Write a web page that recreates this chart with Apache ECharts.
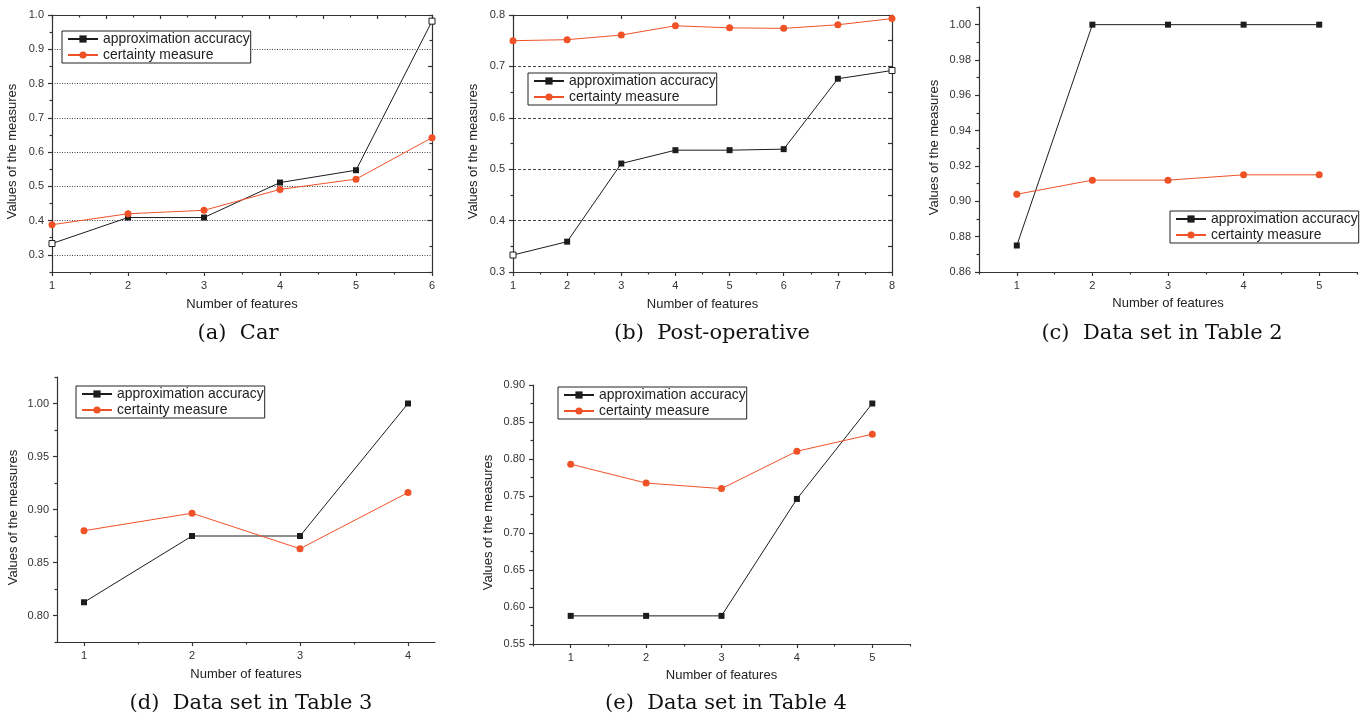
<!DOCTYPE html>
<html>
<head>
<meta charset="utf-8">
<title>Approximation accuracy and certainty measure</title>
<script src="https://cdn.jsdelivr.net/npm/echarts@6/dist/echarts.min.js"></script>
<style>
  html, body { margin: 0; padding: 0; background: #fff; }
  #chart { width: 1367px; height: 717px; }
</style>
</head>
<body>
<div id="chart"></div>
<script>
// ---- values ----
const SERIES_NAMES = ['approximation accuracy', 'certainty measure'];
const X_NAME = 'Number of features';
const Y_NAME = 'Values of the measures';

// (a) Car
const carFeatures = [1, 2, 3, 4, 5, 6];
const carAccuracy = [0.333, 0.409, 0.409, 0.511, 0.547, 0.982];
const carCertainty = [0.388, 0.420, 0.430, 0.491, 0.521, 0.642];
const carXLabels = [1, 2, 3, 4, 5, 6];
const carYLabels = [0.3, 0.4, 0.5, 0.6, 0.7, 0.8, 0.9, 1.0];

// (b) Post-operative
const postFeatures = [1, 2, 3, 4, 5, 6, 7, 8];
const postAccuracy = [0.333, 0.359, 0.511, 0.537, 0.537, 0.539, 0.676, 0.692];
const postCertainty = [0.750, 0.752, 0.761, 0.779, 0.775, 0.774, 0.781, 0.793];
const postXLabels = [1, 2, 3, 4, 5, 6, 7, 8];
const postYLabels = [0.3, 0.4, 0.5, 0.6, 0.7, 0.8];

// (c) Data set in Table 2
const t2Features = [1, 2, 3, 4, 5];
const t2Accuracy = [0.875, 1.0, 1.0, 1.0, 1.0];
const t2Certainty = [0.904, 0.912, 0.912, 0.915, 0.915];
const t2XLabels = [1, 2, 3, 4, 5];
const t2YLabels = [0.86, 0.88, 0.90, 0.92, 0.94, 0.96, 0.98, 1.00];

// (d) Data set in Table 3
const t3Features = [1, 2, 3, 4];
const t3Accuracy = [0.8125, 0.875, 0.875, 1.0];
const t3Certainty = [0.880, 0.8965, 0.863, 0.916];
const t3XLabels = [1, 2, 3, 4];
const t3YLabels = [0.80, 0.85, 0.90, 0.95, 1.00];

// (e) Data set in Table 4
const t4Features = [1, 2, 3, 4, 5];
const t4Accuracy = [0.588, 0.588, 0.588, 0.746, 0.875];
const t4Certainty = [0.793, 0.7675, 0.760, 0.8105, 0.8335];
const t4XLabels = [1, 2, 3, 4, 5];
const t4YLabels = [0.55, 0.60, 0.65, 0.70, 0.75, 0.80, 0.85, 0.90];

// ---- styling ----
const SANS = '"Liberation Sans", Arial, sans-serif';
const SERIF = '"DejaVu Serif", "Liberation Serif", serif';
const TEXT = '#222';
const AXIS = '#333';
const ACC_COLOR = '#1c1c1c';
const CERT_COLOR = '#f05228';

const round = v => Math.round(v * 10000) / 10000;

// midpoints between major ticks, extended to the axis ends
function minorsOf(majors, min, max) {
  const step = majors[1] - majors[0];
  const out = [];
  for (let v = majors[0] - step / 2; v <= max + 1e-9; v += step) {
    if (v >= min - 1e-9) out.push(round(v));
  }
  return out;
}
function stepsOf(from, to, step) {
  const out = [];
  for (let v = from; v <= to + 1e-9; v += step) out.push(round(v));
  return out;
}

const panels = [
  {
    caption: '(a)  Car',
    x: carFeatures, acc: carAccuracy, cert: carCertainty,
    xLabels: carXLabels, yLabels: carYLabels,
    xMin: 1, xMax: 6, yMin: 0.25, yMax: 1.0, yDigits: 1,
    grid: { left: 52, top: 15, width: 380, height: 257 },
    legend: { left: 62, top: 31 },
    captionPos: [238, 323],
    yNameGap: 33, xNameGap: 26,
    gridLine: [1, 1.5],
    top: { min: 0, max: 14, majors: stepsOf(0, 14, 2), minors: stepsOf(1, 13, 2) },
    right: { min: 0, max: 10, majors: stepsOf(0, 10, 2), minors: stepsOf(1, 9, 2) },
    hollowEnds: true
  },
  {
    caption: '(b)  Post-operative',
    x: postFeatures, acc: postAccuracy, cert: postCertainty,
    xLabels: postXLabels, yLabels: postYLabels,
    xMin: 1, xMax: 8, yMin: 0.3, yMax: 0.8, yDigits: 1,
    grid: { left: 513, top: 15, width: 379, height: 257 },
    legend: { left: 528, top: 73 },
    captionPos: [712, 323],
    yNameGap: 33, xNameGap: 26,
    gridLine: [3, 2],
    top: { min: 1, max: 8, majors: postXLabels, minors: [] },
    right: { min: 0.3, max: 0.8, majors: stepsOf(0.3, 0.8, 0.05), minors: [] },
    hollowEnds: true
  },
  {
    caption: '(c)  Data set in Table 2',
    x: t2Features, acc: t2Accuracy, cert: t2Certainty,
    xLabels: t2XLabels, yLabels: t2YLabels,
    xMin: 0.5, xMax: 5.5, yMin: 0.86, yMax: 1.01, yDigits: 2,
    grid: { left: 979, top: 7, width: 378, height: 265 },
    legend: { left: 1170, top: 211 },
    captionPos: [1162, 323],
    yNameGap: 38, xNameGap: 25
  },
  {
    caption: '(d)  Data set in Table 3',
    x: t3Features, acc: t3Accuracy, cert: t3Certainty,
    xLabels: t3XLabels, yLabels: t3YLabels,
    xMin: 0.75, xMax: 4.25, yMin: 0.775, yMax: 1.025, yDigits: 2,
    grid: { left: 57, top: 377, width: 378, height: 265 },
    legend: { left: 76, top: 386 },
    captionPos: [251, 693],
    yNameGap: 37, xNameGap: 26
  },
  {
    caption: '(e)  Data set in Table 4',
    x: t4Features, acc: t4Accuracy, cert: t4Certainty,
    xLabels: t4XLabels, yLabels: t4YLabels,
    xMin: 0.5, xMax: 5.5, yMin: 0.55, yMax: 0.90, yDigits: 2,
    grid: { left: 533, top: 385, width: 377, height: 259 },
    legend: { left: 558, top: 387 },
    captionPos: [726, 693],
    yNameGap: 38, xNameGap: 25
  }
];

const grids = [], xAxes = [], yAxes = [], series = [], legends = [], titles = [];
const lineStyle = { color: AXIS, width: 1.2 };
const labelStyle = { fontFamily: SANS, fontSize: 11, color: '#333' };
const nameStyle = { fontFamily: SANS, fontSize: 13, color: TEXT };

// a tick-only axis (no line, no labels)
function tickAxis(gi, pos, min, max, values, len, inside) {
  return {
    gridIndex: gi, type: 'value', position: pos, min: min, max: max,
    axisLine: { show: false, onZero: false },
    axisTick: { show: true, inside: inside, length: len, customValues: values, lineStyle: lineStyle },
    axisLabel: { show: false },
    splitLine: { show: false }
  };
}

panels.forEach((p, gi) => {
  grids.push(Object.assign({ outerBoundsMode: 'none', containLabel: false }, p.grid));

  const xi = xAxes.length;
  xAxes.push({
    gridIndex: gi, type: 'value', position: 'bottom', min: p.xMin, max: p.xMax,
    name: X_NAME, nameLocation: 'middle', nameGap: p.xNameGap, nameMoveOverlap: false,
    nameTextStyle: nameStyle,
    axisLine: { show: true, onZero: false, lineStyle: lineStyle },
    axisTick: { show: true, length: 4, customValues: p.xLabels, lineStyle: lineStyle },
    axisLabel: Object.assign({ customValues: p.xLabels, margin: 8, formatter: v => String(v) }, labelStyle),
    splitLine: { show: false }
  });
  xAxes.push(tickAxis(gi, 'bottom', p.xMin, p.xMax, minorsOf(p.xLabels, p.xMin, p.xMax), 2.5, false));

  const yi = yAxes.length;
  yAxes.push({
    gridIndex: gi, type: 'value', position: 'left', min: p.yMin, max: p.yMax,
    name: Y_NAME, nameLocation: 'middle', nameGap: p.yNameGap, nameMoveOverlap: false,
    // the name sits a little below the middle of the axis in the original
    nameTextStyle: Object.assign({ padding: [0, 16, 0, 0] }, nameStyle),
    axisLine: { show: true, onZero: false, lineStyle: lineStyle },
    axisTick: { show: true, length: 4, customValues: p.yLabels, lineStyle: lineStyle },
    axisLabel: Object.assign({ customValues: p.yLabels, margin: 8, formatter: v => v.toFixed(p.yDigits) }, labelStyle),
    splitLine: p.gridLine
      ? { show: true, lineStyle: { color: '#444', width: 1, type: p.gridLine } }
      : { show: false }
  });
  yAxes.push(tickAxis(gi, 'left', p.yMin, p.yMax, minorsOf(p.yLabels, p.yMin, p.yMax), 2.5, false));

  // mirrored frame (top / right) for the first two panels
  if (p.top) {
    const t = tickAxis(gi, 'top', p.top.min, p.top.max, p.top.majors, 4, true);
    t.axisLine = { show: true, onZero: false, lineStyle: lineStyle };
    xAxes.push(t);
    if (p.top.minors.length) xAxes.push(tickAxis(gi, 'top', p.top.min, p.top.max, p.top.minors, 2.5, true));
  }
  if (p.right) {
    const r = tickAxis(gi, 'right', p.right.min, p.right.max, p.right.majors, 4, true);
    r.axisLine = { show: true, onZero: false, lineStyle: lineStyle };
    yAxes.push(r);
    if (p.right.minors.length) yAxes.push(tickAxis(gi, 'right', p.right.min, p.right.max, p.right.minors, 2.5, true));
  }

  series.push({
    name: SERIES_NAMES[0], type: 'line', xAxisIndex: xi, yAxisIndex: yi,
    data: p.x.map((x, k) => {
      const item = { value: [x, p.acc[k]] };
      // markers sitting on the frame show up hollow in the original
      if (p.hollowEnds && (x === p.xMin || x === p.xMax)) {
        item.itemStyle = { color: '#fff', borderColor: ACC_COLOR, borderWidth: 1 };
      }
      return item;
    }),
    symbol: 'rect', symbolSize: 6, showAllSymbol: true,
    lineStyle: { color: ACC_COLOR, width: 1 },
    itemStyle: { color: ACC_COLOR },
    emphasis: { disabled: true }, animation: false, z: 3
  });
  series.push({
    name: SERIES_NAMES[1], type: 'line', xAxisIndex: xi, yAxisIndex: yi,
    data: p.x.map((x, k) => [x, p.cert[k]]),
    symbol: 'circle', symbolSize: 7, showAllSymbol: true,
    lineStyle: { color: CERT_COLOR, width: 1 },
    itemStyle: { color: CERT_COLOR },
    emphasis: { disabled: true }, animation: false, z: 4
  });

  legends.push({
    left: p.legend.left, top: p.legend.top, orient: 'vertical',
    data: SERIES_NAMES, selectedMode: false,
    itemWidth: 30, itemHeight: 9, itemGap: 2,
    padding: [1, 1, 1, 5],
    borderColor: '#222', borderWidth: 1, borderRadius: 0, backgroundColor: '#fff',
    textStyle: { fontFamily: SANS, fontSize: 13.9, color: TEXT }
  });

  titles.push({
    text: p.caption, left: p.captionPos[0], top: p.captionPos[1],
    textAlign: 'center', padding: 0,
    textStyle: { fontFamily: SERIF, fontSize: 21, fontWeight: 'normal', color: '#111' }
  });
});

const chart = echarts.init(document.getElementById('chart'), null, { renderer: 'canvas' });
chart.setOption({
  backgroundColor: '#fff',
  animation: false,
  title: titles,
  legend: legends,
  grid: grids,
  xAxis: xAxes,
  yAxis: yAxes,
  tooltip: { show: false },
  series: series
});
window.addEventListener('resize', () => chart.resize());
</script>
</body>
</html>
